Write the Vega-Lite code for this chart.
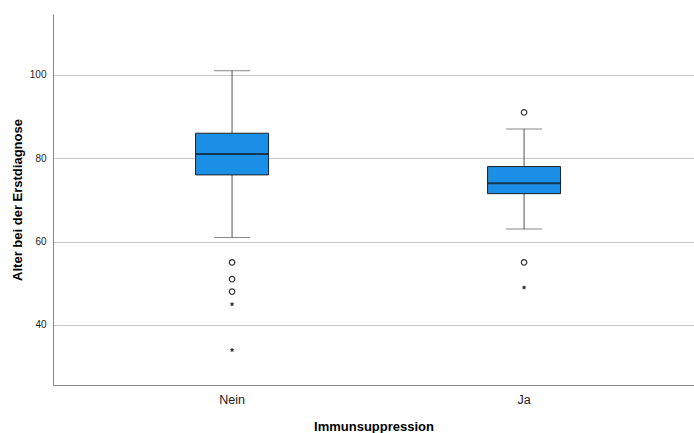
{
  "$schema": "https://vega.github.io/schema/vega-lite/v6.json",
  "width": 641,
  "height": 371,
  "autosize": {"type": "none"},
  "padding": {"left": 53, "top": 14, "right": 0, "bottom": 48},
  "background": "white",
  "config": {"view": {"stroke": null}, "font": "Liberation Sans"},
  "datasets": {
    "stats": [
      {"group": "Nein", "lower": 61, "q1": 76, "median": 81, "q3": 86, "upper": 101},
      {"group": "Ja", "lower": 63, "q1": 71.5, "median": 74, "q3": 78, "upper": 87}
    ],
    "outliers": [
      {"group": "Nein", "value": 55, "kind": "circle"},
      {"group": "Nein", "value": 51, "kind": "circle"},
      {"group": "Nein", "value": 48, "kind": "circle"},
      {"group": "Nein", "value": 45, "kind": "star"},
      {"group": "Nein", "value": 34, "kind": "star"},
      {"group": "Ja", "value": 91, "kind": "circle"},
      {"group": "Ja", "value": 55, "kind": "circle"},
      {"group": "Ja", "value": 49, "kind": "star"}
    ]
  },
  "encoding": {
    "x": {
      "field": "group",
      "type": "nominal",
      "sort": ["Nein", "Ja"],
      "scale": {"paddingInner": 0, "paddingOuter": 0.0976, "align": 0.58},
      "axis": {
        "title": "Immunsuppression",
        "titleFontSize": 13,
        "titleFontWeight": "bold",
        "titleColor": "#000",
        "titlePadding": 15,
        "labelAngle": 0,
        "labelFontSize": 12.5,
        "labelColor": "#222",
        "labelPadding": 8,
        "ticks": false,
        "domainColor": "#888",
        "grid": false
      }
    }
  },
  "layer": [
    {
      "data": {"name": "stats"},
      "mark": {"type": "rule", "color": "#555", "strokeWidth": 1},
      "encoding": {
        "y": {
          "field": "lower",
          "type": "quantitative",
          "scale": {"domain": [25.6, 114.6], "nice": false, "zero": false},
          "axis": {
            "title": "Alter bei der Erstdiagnose",
            "titleFontSize": 13,
            "titleFontWeight": "bold",
            "titleColor": "#000",
            "titlePadding": 5,
            "values": [40, 60, 80, 100],
            "labelFontSize": 10,
            "labelColor": "#222",
            "labelPadding": 7,
            "ticks": false,
            "domainColor": "#888",
            "gridColor": "#c8c8c8",
            "gridWidth": 1
          }
        },
        "y2": {"field": "upper"}
      }
    },
    {
      "data": {"name": "stats"},
      "mark": {"type": "tick", "color": "#555", "size": 36, "thickness": 1},
      "encoding": {"y": {"field": "lower", "type": "quantitative"}}
    },
    {
      "data": {"name": "stats"},
      "mark": {"type": "tick", "color": "#555", "size": 36, "thickness": 1},
      "encoding": {"y": {"field": "upper", "type": "quantitative"}}
    },
    {
      "data": {"name": "stats"},
      "mark": {"type": "bar", "size": 73, "color": "#1B8FE6", "stroke": "#222", "strokeWidth": 1},
      "encoding": {
        "y": {"field": "q1", "type": "quantitative"},
        "y2": {"field": "q3"}
      }
    },
    {
      "data": {"name": "stats"},
      "mark": {"type": "tick", "color": "#111", "size": 73, "thickness": 2},
      "encoding": {"y": {"field": "median", "type": "quantitative"}}
    },
    {
      "data": {"name": "outliers"},
      "transform": [{"filter": "datum.kind === 'circle'"}],
      "mark": {"type": "point", "shape": "circle", "filled": false, "color": "#333", "strokeWidth": 1.2, "size": 30, "opacity": 1},
      "encoding": {"y": {"field": "value", "type": "quantitative"}}
    },
    {
      "data": {"name": "outliers"},
      "transform": [{"filter": "datum.kind === 'star'"}],
      "mark": {"type": "point", "shape": "M0,-1L0.29,-0.4L0.95,-0.31L0.48,0.15L0.59,0.81L0,0.5L-0.59,0.81L-0.48,0.15L-0.95,-0.31L-0.29,-0.4Z", "filled": true, "color": "#333", "size": 25, "opacity": 1},
      "encoding": {"y": {"field": "value", "type": "quantitative"}}
    }
  ]
}
